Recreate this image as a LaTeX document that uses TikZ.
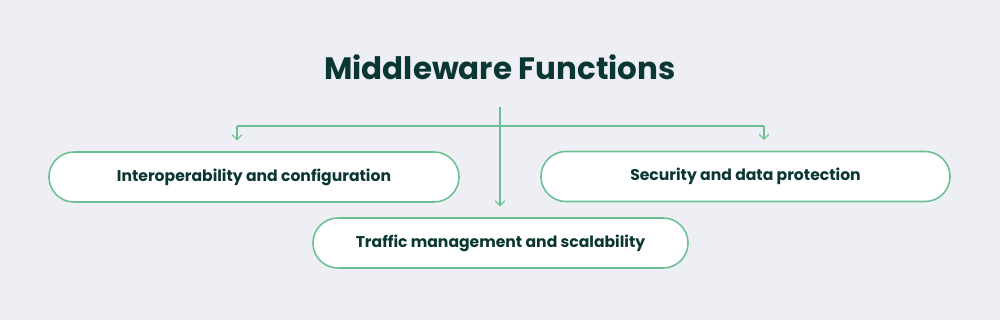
\documentclass[tikz,border=0pt]{standalone}
\usepackage{fontspec}
\setmainfont{Poppins}
\usepackage{tikz}
\usepackage{xcolor}
\usetikzlibrary{arrows.meta}
\definecolor{pagebg}{HTML}{EEEFF4}
\definecolor{leafgreen}{HTML}{6CBF93}
\definecolor{inkteal}{HTML}{0B3733}
\tikzset{
  funcbox/.style={draw=leafgreen,line width=1.1pt,fill=white,rounded corners=0.625cm,
    minimum height=1.25cm,inner sep=0pt,font=\fontsize{11.1}{13}\selectfont\bfseries,text=inkteal},
  link/.style={draw=leafgreen,line width=0.8pt},
  linkarrow/.style={link,-{Straight Barb[length=3.5pt,width=7pt,line width=0.8pt]},shorten >=0.27cm}
}
\begin{document}
\begin{tikzpicture}[x=0.025cm,y=-0.025cm]
\fill[pagebg] (0,0) rectangle (1000,320);
\useasboundingbox (0,0) rectangle (1000,320);
% title
\node[font=\fontsize{22}{26}\selectfont\bfseries,text=inkteal] (title) at (500,67) {Middleware Functions};
% boxes
\node[funcbox,minimum width=10.25cm] (interop) at (254,177) {Interoperability and configuration};
\node[funcbox,minimum width=10.225cm] (security) at (745.5,176.5) {Security and data protection};
\node[funcbox,minimum width=9.375cm] (traffic) at (500.5,243) {Traffic management and scalability};
% connectors
\coordinate (hub) at (500,107);
\coordinate (lt) at (237,126);
\coordinate (rt) at (764,126);
\draw[link] (lt) -- (rt);
\draw[linkarrow] (hub) -- (hub |- traffic.north);
\draw[linkarrow] (lt) -- (lt |- interop.north);
\draw[linkarrow] (rt) -- (rt |- security.north);
\end{tikzpicture}
\end{document}
